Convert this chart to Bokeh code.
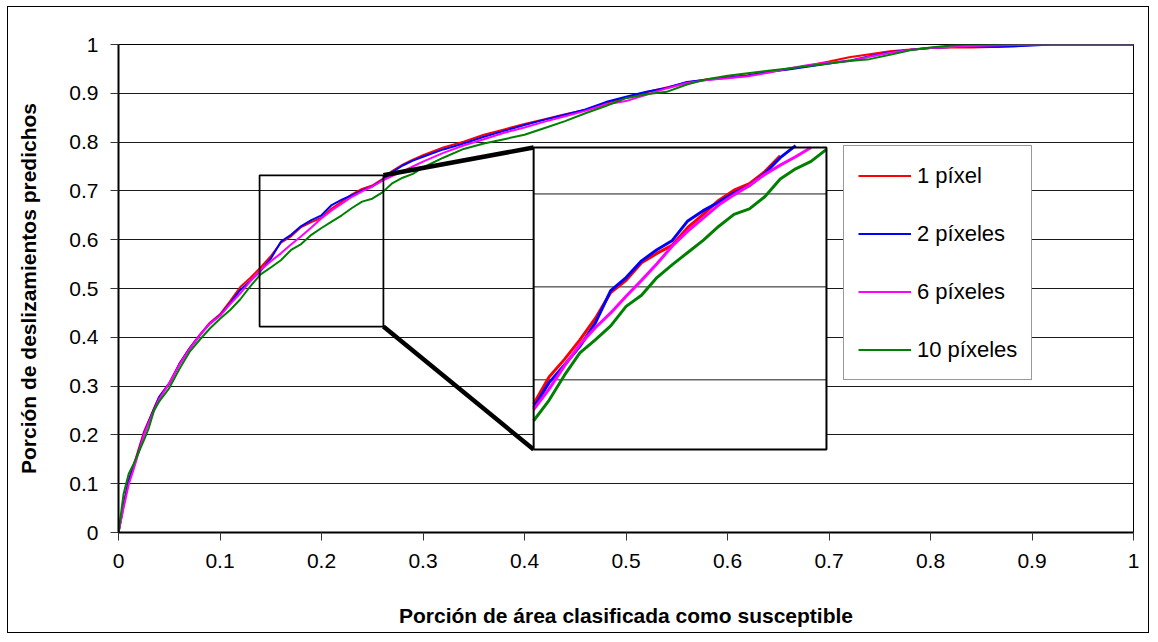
from bokeh.plotting import figure
from bokeh.models import (Range1d, FixedTicker, Legend, LegendItem)
from bokeh.embed import file_html
from bokeh.resources import INLINE

# ---------------- data ----------------
X = [0, 0.005, 0.01, 0.015, 0.02, 0.025, 0.03, 0.035, 0.04,
     0.05, 0.06, 0.07, 0.08, 0.09, 0.10,
     0.11, 0.12, 0.13, 0.14, 0.15, 0.16, 0.17, 0.18, 0.19, 0.20,
     0.21, 0.22, 0.23, 0.24, 0.25, 0.26, 0.27, 0.28, 0.29, 0.30,
     0.32, 0.34, 0.36, 0.38, 0.40, 0.42, 0.44, 0.46, 0.48, 0.50,
     0.52, 0.54, 0.56, 0.58, 0.60, 0.62, 0.64, 0.66, 0.68, 0.70,
     0.72, 0.74, 0.76, 0.78, 0.80, 0.82, 0.84, 0.86, 0.88, 0.90,
     0.92, 0.95, 1.00]

PX1 = [0, 0.058, 0.108, 0.138, 0.172, 0.206, 0.230, 0.255, 0.278,
       0.306, 0.346, 0.378, 0.405, 0.430, 0.447,
       0.474, 0.503, 0.522, 0.543, 0.566, 0.594, 0.607, 0.626, 0.636, 0.645,
       0.664, 0.678, 0.693, 0.704, 0.711, 0.724, 0.741, 0.754, 0.764, 0.773,
       0.789, 0.801, 0.815, 0.826, 0.837, 0.847, 0.857, 0.866, 0.880, 0.891,
       0.902, 0.912, 0.922, 0.929, 0.933, 0.937, 0.943, 0.950, 0.957, 0.965,
       0.974, 0.980, 0.986, 0.990, 0.993, 0.994, 0.994, 0.995, 0.997, 0.999,
       1.0, 1.0, 1.0]

PX2 = [0, 0.055, 0.105, 0.135, 0.168, 0.202, 0.228, 0.253, 0.277,
       0.305, 0.345, 0.377, 0.404, 0.428, 0.445,
       0.470, 0.497, 0.516, 0.536, 0.561, 0.596, 0.610, 0.628, 0.640, 0.650,
       0.671, 0.682, 0.691, 0.701, 0.709, 0.722, 0.739, 0.752, 0.762, 0.770,
       0.785, 0.797, 0.811, 0.823, 0.835, 0.846, 0.856, 0.867, 0.882, 0.893,
       0.903, 0.911, 0.923, 0.928, 0.932, 0.936, 0.944, 0.949, 0.955, 0.961,
       0.967, 0.976, 0.984, 0.989, 0.993, 0.995, 0.995, 0.995, 0.996, 0.998,
       1.0, 1.0, 1.0]

PX6 = [0, 0.050, 0.098, 0.130, 0.165, 0.200, 0.226, 0.250, 0.273,
       0.306, 0.344, 0.376, 0.404, 0.428, 0.444,
       0.468, 0.490, 0.515, 0.538, 0.556, 0.572, 0.590, 0.607, 0.625, 0.644,
       0.660, 0.674, 0.688, 0.699, 0.709, 0.721, 0.731, 0.740, 0.750, 0.760,
       0.778, 0.793, 0.806, 0.819, 0.830, 0.842, 0.853, 0.864, 0.877, 0.884,
       0.897, 0.910, 0.921, 0.927, 0.931, 0.935, 0.942, 0.951, 0.958, 0.963,
       0.966, 0.975, 0.983, 0.989, 0.993, 0.995, 0.997, 0.998, 0.999, 1.0,
       1.0, 1.0, 1.0]

PX10 = [0, 0.079, 0.120, 0.141, 0.165, 0.189, 0.215, 0.250, 0.268,
        0.296, 0.335, 0.370, 0.395, 0.418, 0.438,
        0.456, 0.478, 0.505, 0.529, 0.543, 0.558, 0.579, 0.591, 0.610, 0.624,
        0.637, 0.650, 0.665, 0.678, 0.684, 0.697, 0.716, 0.727, 0.735, 0.748,
        0.768, 0.786, 0.797, 0.806, 0.815, 0.829, 0.843, 0.859, 0.874, 0.890,
        0.898, 0.903, 0.918, 0.929, 0.936, 0.941, 0.946, 0.951, 0.956, 0.961,
        0.966, 0.970, 0.979, 0.988, 0.994, 0.998, 1.0, 1.0, 1.0, 1.0,
        1.0, 1.0, 1.0]

SERIES_NAMES = ["1 píxel", "2 píxeles", "6 píxeles", "10 píxeles"]
SERIES_VALUES = [PX1, PX2, PX6, PX10]
SERIES_COLORS = ["#FF0000", "#0000FF", "#FF00FF", "#008000"]

TICKS = [0, 0.1, 0.2, 0.3, 0.4, 0.5, 0.6, 0.7, 0.8, 0.9, 1]
TICK_LABELS = ["0", "0.1", "0.2", "0.3", "0.4", "0.5", "0.6", "0.7", "0.8", "0.9", "1"]

X_TITLE = "Porción de área clasificada como susceptible"
Y_TITLE = "Porción de deslizamientos predichos"

# zoom box (main data coords), inset panel (main data coords), inset view (data shown)
ZOOM_X = (0.139, 0.261)
ZOOM_Y = (0.422, 0.732)
PANEL_X = (0.409, 0.6975)
PANEL_Y = (0.170, 0.789)
VIEW_X = (0.11, 0.30)
VIEW_Y = (0.425, 0.75)
INSET_GRID = [0.5, 0.6, 0.7]

for s in SERIES_VALUES:
    assert len(s) == len(X)

FONT = "Liberation Sans"
W, H = 1142, 627

p = figure(width=W, height=H, x_range=Range1d(0, 1), y_range=Range1d(0, 1),
           output_backend="svg", toolbar_location=None,
           min_border_left=110, min_border_right=17,
           min_border_top=37, min_border_bottom=102)
p.styles = {"border": "1px solid black", "margin-left": "7px", "margin-top": "6px"}
p.background_fill_color = "white"
p.border_fill_color = "white"
p.outline_line_color = "black"
p.outline_line_width = 1


def inset_range(view, panel):
    span = (view[1] - view[0]) / (panel[1] - panel[0])
    start = view[0] - panel[0] * span
    return Range1d(start, start + span)


p.extra_x_ranges = {"ix": inset_range(VIEW_X, PANEL_X)}
p.extra_y_ranges = {"iy": inset_range(VIEW_Y, PANEL_Y)}

# grid
p.xgrid.visible = False
p.ygrid.ticker = FixedTicker(ticks=TICKS)
p.ygrid.grid_line_color = "#1a1a1a"
p.ygrid.grid_line_width = 1

for ax in (p.xaxis[0], p.yaxis[0]):
    ax.ticker = FixedTicker(ticks=TICKS)
    ax.major_label_overrides = dict(zip(TICKS, TICK_LABELS))
    ax.minor_tick_line_color = None
    ax.major_tick_in = 0
    ax.major_tick_out = 8
    ax.major_tick_line_color = "#333333"
    ax.axis_line_color = "black"
    ax.axis_line_width = 2
    ax.major_label_text_font = FONT
    ax.major_label_text_font_size = "21px"
    ax.major_label_text_color = "black"
    ax.axis_label_text_font = FONT
    ax.axis_label_text_font_size = "21px"
    ax.axis_label_text_font_style = "bold"
    ax.axis_label_text_color = "black"

p.xaxis.axis_label = X_TITLE
p.yaxis.axis_label = Y_TITLE
p.xaxis.major_label_standoff = 13
p.yaxis.major_label_standoff = 12
p.xaxis.axis_label_standoff = 33
p.yaxis.axis_label_standoff = 26

# main series
renderers = []
for vals, col in zip(SERIES_VALUES, SERIES_COLORS):
    r = p.line(X, vals, line_color=col, line_width=2)
    renderers.append(r)

# zoom box
p.quad(left=[ZOOM_X[0]], right=[ZOOM_X[1]], bottom=[ZOOM_Y[0]], top=[ZOOM_Y[1]],
       fill_alpha=0, line_color="black", line_width=1.75)
# connectors
p.segment(x0=[ZOOM_X[1], ZOOM_X[1]], y0=[ZOOM_Y[1], ZOOM_Y[0]],
          x1=[PANEL_X[0], PANEL_X[0]], y1=[PANEL_Y[1], PANEL_Y[0]],
          line_color="black", line_width=4.5)
# inset panel background
p.quad(left=[PANEL_X[0]], right=[PANEL_X[1]], bottom=[PANEL_Y[0]], top=[PANEL_Y[1]],
       fill_color="white", line_color=None)
# inset gridlines
p.segment(x0=[VIEW_X[0]] * len(INSET_GRID), x1=[VIEW_X[1]] * len(INSET_GRID),
          y0=INSET_GRID, y1=INSET_GRID, line_color="#1a1a1a", line_width=1,
          x_range_name="ix", y_range_name="iy")
# inset series
for vals, col in zip(SERIES_VALUES, SERIES_COLORS):
    pts = [(x, y) for x, y in zip(X, vals)
           if VIEW_X[0] <= x <= VIEW_X[1] and y <= VIEW_Y[1] + 0.003]
    p.line([a for a, _ in pts], [b for _, b in pts], line_color=col, line_width=3,
           x_range_name="ix", y_range_name="iy")
# inset border
p.quad(left=[PANEL_X[0]], right=[PANEL_X[1]], bottom=[PANEL_Y[0]], top=[PANEL_Y[1]],
       fill_alpha=0, line_color="black", line_width=2)

# legend
legend = Legend(items=[LegendItem(label=n, renderers=[r]) for n, r in zip(SERIES_NAMES, renderers)],
                location=(725, 152), margin=0, padding=14, spacing=27,
                label_height=31, glyph_height=31, glyph_width=53, label_standoff=6,
                label_text_font=FONT, label_text_font_size="22px", label_text_color="black",
                border_line_color="#333333", border_line_width=1,
                background_fill_color="white", background_fill_alpha=1)
p.add_layout(legend)

open("out.html", "w").write(file_html(p, INLINE))
